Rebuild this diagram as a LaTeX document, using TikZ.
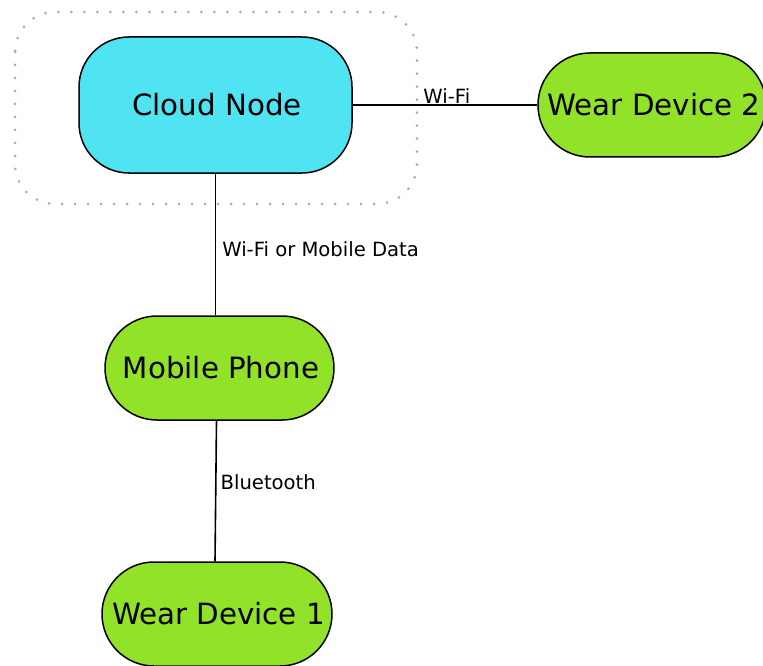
\documentclass[tikz,border=0pt]{standalone}
\usepackage{fontspec}
\setmainfont{DejaVu Sans}
\definecolor{cloudcyan}{RGB}{80,227,242}
\definecolor{devgreen}{RGB}{146,226,42}
\begin{document}
\begin{tikzpicture}[x=1pt,y=-1pt,
  box/.style={draw=black,line width=1.5pt,rounded corners=52pt,minimum width=229pt,minimum height=104pt,fill=devgreen,font=\fontsize{29.3}{35}\selectfont},
  link/.style={draw=black,line width=1.6pt},
  lbl/.style={font=\fontsize{19.6}{23}\selectfont,inner sep=1pt}]
\useasboundingbox (0,0) rectangle (763,666);
\draw [color=gray!65,line width=3pt,line cap=round,dash pattern=on 0pt off 13pt,rounded corners=40pt] (15,12) rectangle (417,204);
\node[box,fill=cloudcyan,minimum width=273pt,minimum height=136pt,rounded corners=50pt] (cloud) at (215.5,105) {\hspace{3pt}Cloud Node};
\node[box,minimum width=228pt] (wear2) at (652,105) {\hspace{4pt}Wear Device 2};
\node[box] (phone) at (219.5,368) {\hspace{3pt}Mobile Phone};
\node[box,minimum width=230pt] (wear1) at (217,614) {\hspace{3pt}Wear Device 1};
\draw[link] (cloud) -- (wear2) node[lbl,pos=0.51,above] {Wi-Fi};
\draw[link] (cloud.south) -- (cloud.south |- phone.north) node[lbl,pos=0.53,right=5pt] {Wi-Fi or Mobile Data};
\draw[link] ([xshift=-3pt]phone.south) -- ([xshift=-2pt]wear1.north) node[lbl,pos=0.44,right=3pt] {Bluetooth};
\end{tikzpicture}
\end{document}
